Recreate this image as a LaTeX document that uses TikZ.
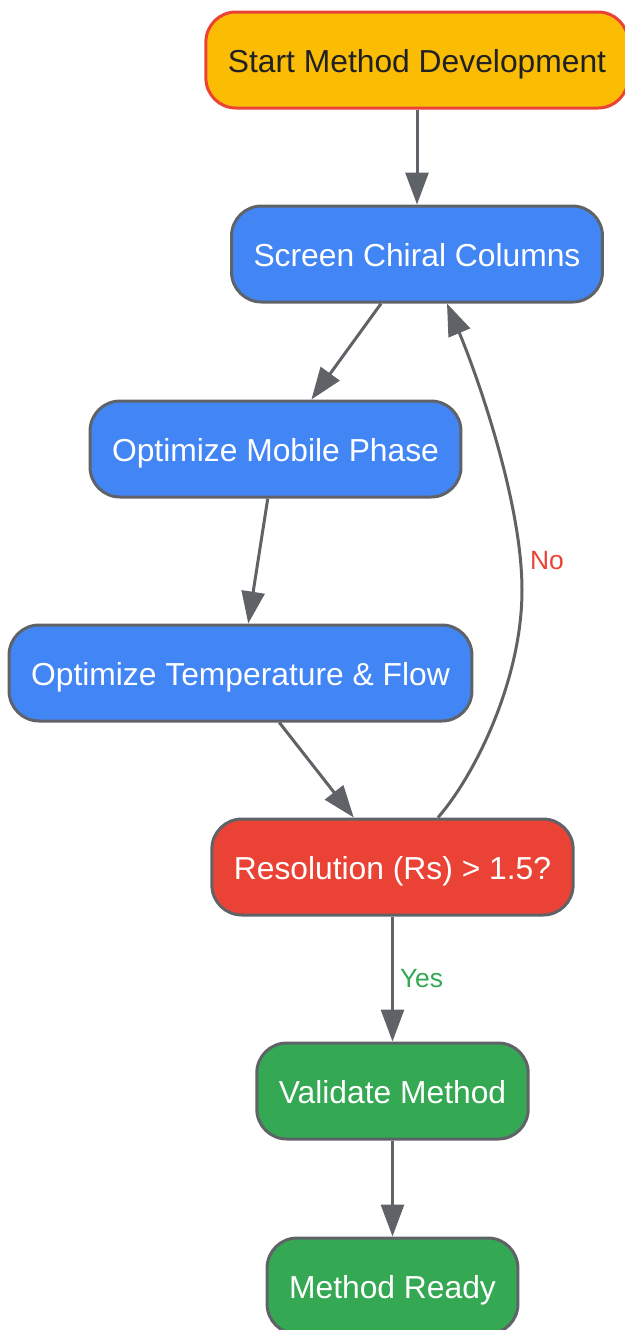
\documentclass[tikz,border=0pt]{standalone}
\usepackage{fontspec}
\setmainfont{Liberation Sans}
\usetikzlibrary{arrows.meta}

\definecolor{gyellow}{HTML}{FBBC04}
\definecolor{gred}{HTML}{EA4335}
\definecolor{gblue}{HTML}{4285F4}
\definecolor{ggreen}{HTML}{34A853}
\definecolor{ggray}{HTML}{5F6368}
\definecolor{gdark}{HTML}{202124}

\begin{document}
\begin{tikzpicture}[
   x=0.5pt, y=-0.5pt,
   box/.style={rectangle, rounded corners=15pt, draw=ggray, line width=1.5pt,
      minimum height=48pt, inner xsep=11pt, text=white,
      text height=12.5pt, text depth=0.5pt,
      font=\fontsize{15.9}{19}\selectfont},
   arrow/.style={-{Triangle[length=16pt,width=11.5pt]}, draw=ggray, line width=1.5pt},
   lbl/.style={font=\fontsize{13.2}{16}\selectfont, inner sep=1pt}
]
\useasboundingbox (0,0) rectangle (625,1330);

% Steps
\node[box, fill=gyellow, draw=gred, text=gdark] (start) at (417,60) {Start Method Development};
\node[box, fill=gblue] (screen) at (417,254) {Screen Chiral Columns};
\node[box, fill=gblue] (mobile) at (275.5,449) {Optimize Mobile Phase};
\node[box, fill=gblue] (temp) at (240.5,673) {Optimize Temperature \& Flow};
\node[box, fill=gred] (res) at (392.5,867) {Resolution (Rs) > 1.5?};
\node[box, fill=ggreen] (valid) at (392.5,1091) {Validate Method};
\node[box, fill=ggreen] (ready) at (392.5,1286) {Method Ready};

% Flow
\draw[arrow] (start) -- (screen);
\draw[arrow] (screen) -- (mobile);
\draw[arrow] (mobile) -- (temp);
\draw[arrow] (temp) -- (res);
\draw[arrow] (res) -- node[lbl, right=2pt, text=ggreen] (lblyes) {Yes} (valid);
\draw[arrow] (valid) -- (ready);

% Loop back
\draw[arrow] ([xshift=22.75pt]res.north) .. controls (475,775) and (522,680) .. (522,590)
   .. controls (522,500) and (475,370) .. ([xshift=15pt]screen.south);
\node[lbl, text=gred] (lblno) at (547,561) {No};

\end{tikzpicture}
\end{document}
